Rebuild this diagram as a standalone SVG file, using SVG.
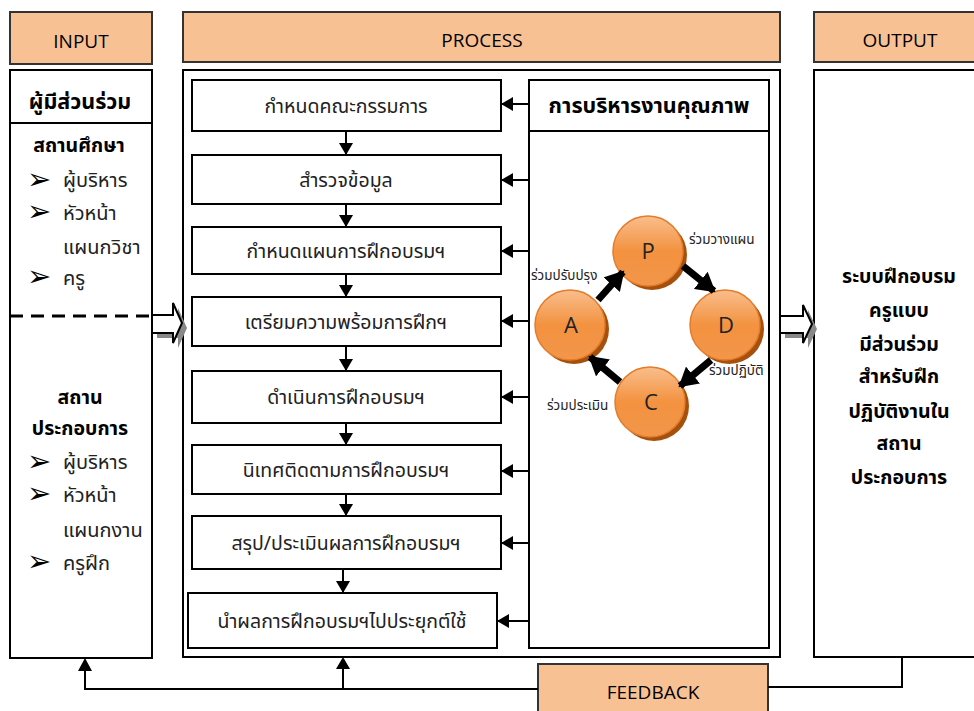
<svg xmlns="http://www.w3.org/2000/svg" width="974" height="711" viewBox="0 0 974 711">
<style>
.hdr{fill:#F8C194;stroke:#333;stroke-width:2}
.box{fill:#fff;stroke:#000;stroke-width:2}
.en{font-family:"Open Sans","Noto Sans","DejaVu Sans",sans-serif;font-size:19px;fill:#000;text-anchor:middle}
.th{font-family:"Noto Sans Thai","Noto Sans Thai UI","Leelawadee UI",Tahoma,"Noto Sans",sans-serif;fill:#222}
.pt{font-size:19.5px;text-anchor:middle}
.it{font-size:20px}
.b{font-weight:bold;fill:#000}
.sm{font-size:13.5px}
.bul{font-family:"DejaVu Sans",sans-serif;font-size:29px;fill:#000}
.ln{fill:none;stroke:#000;stroke-width:2}
.pdca{fill:none;stroke:#000;stroke-width:7}
.ltr{font-family:"Open Sans","Noto Sans",sans-serif;font-size:22px;fill:#222;text-anchor:middle}
</style>
<defs>
<marker id="ah" markerUnits="userSpaceOnUse" markerWidth="14" markerHeight="14" refX="12" refY="7" orient="auto">
<path d="M0,0 L12,7 L0,14 Z" fill="#000"/>
</marker>
<marker id="big" markerUnits="userSpaceOnUse" markerWidth="22" markerHeight="22" refX="17" refY="11" orient="auto">
<path d="M0,0 L19,11 L0,22 Z" fill="#000"/>
</marker>
<linearGradient id="og" x1="0" y1="0" x2="0" y2="1">
<stop offset="0" stop-color="#F9BE8C"/>
<stop offset="0.5" stop-color="#F39240"/>
<stop offset="1" stop-color="#F2964A"/>
</linearGradient>
</defs>

<g id="input-header"><rect class="hdr" x="10" y="12" width="142" height="52"/><text class="en" x="81" y="48">INPUT</text></g>
<g id="process-header"><rect class="hdr" x="183" y="12" width="597" height="50"/><text class="en" x="482" y="47">PROCESS</text></g>
<g id="output-header"><rect class="hdr" x="814" y="12" width="170" height="50"/><text class="en" x="900" y="47">OUTPUT</text></g>

<g id="input">
<rect class="box" x="10" y="70" width="142" height="588"/>
<line class="ln" x1="10" y1="123" x2="152" y2="123"/>
<text class="th b" x="80" y="109" font-size="21.5" text-anchor="middle">ผู้มีส่วนร่วม</text>
<text class="th b" x="79" y="152" font-size="19.5" text-anchor="middle">สถานศึกษา</text>
<text class="bul" x="27" y="189">➢</text><text class="th it" x="63" y="187">ผู้บริหาร</text>
<text class="bul" x="27" y="221">➢</text><text class="th it" x="63" y="220">หัวหน้า</text>
<text class="th it" x="63" y="254">แผนกวิชา</text>
<text class="bul" x="27" y="286">➢</text><text class="th it" x="63" y="285">ครู</text>
<line x1="10" y1="316" x2="152" y2="316" stroke="#000" stroke-width="3" stroke-dasharray="13,8"/>
<text class="th b" x="80" y="404" font-size="19.5" text-anchor="middle">สถาน</text>
<text class="th b" x="80" y="435" font-size="19.5" text-anchor="middle">ประกอบการ</text>
<text class="bul" x="27" y="471">➢</text><text class="th it" x="63" y="469">ผู้บริหาร</text>
<text class="bul" x="27" y="503">➢</text><text class="th it" x="63" y="502">หัวหน้า</text>
<text class="th it" x="63" y="537">แผนกงาน</text>
<text class="bul" x="27" y="571">➢</text><text class="th it" x="63" y="570">ครูฝึก</text>
</g>

<g id="process"><rect class="box" x="183" y="70" width="597" height="587"/></g>

<g id="step1"><rect class="box" x="192" y="80" width="309" height="51"/><text class="th pt" x="346" y="113">กำหนดคณะกรรมการ</text></g>
<g id="step2"><rect class="box" x="192" y="155" width="309" height="49"/><text class="th pt" x="346" y="187">สำรวจข้อมูล</text></g>
<g id="step3"><rect class="box" x="192" y="227" width="309" height="47"/><text class="th pt" x="346" y="258">กำหนดแผนการฝึกอบรมฯ</text></g>
<g id="step4"><rect class="box" x="192" y="297" width="309" height="49"/><text class="th pt" x="346" y="329">เตรียมความพร้อมการฝึกฯ</text></g>
<g id="step5"><rect class="box" x="192" y="371" width="309" height="52"/><text class="th pt" x="346" y="404">ดำเนินการฝึกอบรมฯ</text></g>
<g id="step6"><rect class="box" x="192" y="445" width="309" height="49"/><text class="th pt" x="346" y="477">นิเทศติดตามการฝึกอบรมฯ</text></g>
<g id="step7"><rect class="box" x="192" y="516" width="309" height="53"/><text class="th pt" x="346" y="550">สรุป/ประเมินผลการฝึกอบรมฯ</text></g>
<g id="step8"><rect class="box" x="188" y="593" width="309" height="55"/><text class="th pt" x="342" y="628">นำผลการฝึกอบรมฯไปประยุกต์ใช้</text></g>

<g id="quality">
<rect class="box" x="529" y="80" width="240" height="568"/>
<line class="ln" x1="529" y1="131" x2="769" y2="131"/>
<text class="th b" x="649" y="113" font-size="21.5" text-anchor="middle">การบริหารงานคุณภาพ</text>
</g>

<g id="node-P"><circle cx="652" cy="255" r="35" fill="#A5500C"/><circle cx="648" cy="251" r="35" fill="url(#og)" stroke="#E47C2A" stroke-width="1.5"/><text class="ltr" x="648" y="259">P</text></g>
<g id="node-D"><circle cx="729" cy="329" r="35" fill="#A5500C"/><circle cx="725" cy="325" r="35" fill="url(#og)" stroke="#E47C2A" stroke-width="1.5"/><text class="ltr" x="726" y="333">D</text></g>
<g id="node-A"><circle cx="574" cy="329" r="35" fill="#A5500C"/><circle cx="570" cy="325" r="35" fill="url(#og)" stroke="#E47C2A" stroke-width="1.5"/><text class="ltr" x="571" y="333">A</text></g>
<g id="node-C"><circle cx="654" cy="406" r="35" fill="#A5500C"/><circle cx="650" cy="402" r="35" fill="url(#og)" stroke="#E47C2A" stroke-width="1.5"/><text class="ltr" x="651" y="410">C</text></g>

<g id="pdca-labels">
<text class="th sm" x="689" y="244">ร่วมวางแผน</text>
<text class="th sm" x="531" y="280">ร่วมปรับปรุง</text>
<text class="th sm" x="709" y="375">ร่วมปฏิบัติ</text>
<text class="th sm" x="547" y="410">ร่วมประเมิน</text>
</g>

<g id="output">
<rect class="box" x="814" y="70" width="170" height="587"/>
<g class="th b" font-size="19.5" text-anchor="middle">
<text x="899" y="283">ระบบฝึกอบรม</text>
<text x="899" y="317">ครูแบบ</text>
<text x="899" y="351">มีส่วนร่วม</text>
<text x="899" y="383">สำหรับฝึก</text>
<text x="899" y="418">ปฏิบัติงานใน</text>
<text x="899" y="450">สถาน</text>
<text x="899" y="484">ประกอบการ</text>
</g>
</g>

<g id="feedback"><rect class="hdr" x="538" y="664" width="230" height="55"/><text class="en" x="653" y="699" font-size="18">FEEDBACK</text></g>

<g id="connectors">
<line class="ln" x1="346" y1="131" x2="346" y2="155" marker-end="url(#ah)"/>
<line class="ln" x1="346" y1="204" x2="346" y2="227" marker-end="url(#ah)"/>
<line class="ln" x1="346" y1="274" x2="346" y2="297" marker-end="url(#ah)"/>
<line class="ln" x1="346" y1="346" x2="346" y2="371" marker-end="url(#ah)"/>
<line class="ln" x1="346" y1="423" x2="346" y2="445" marker-end="url(#ah)"/>
<line class="ln" x1="346" y1="494" x2="346" y2="516" marker-end="url(#ah)"/>
<line class="ln" x1="343" y1="569" x2="343" y2="593" marker-end="url(#ah)"/>

<line class="ln" x1="529" y1="104" x2="501" y2="104" marker-end="url(#ah)"/>
<line class="ln" x1="529" y1="180" x2="501" y2="180" marker-end="url(#ah)"/>
<line class="ln" x1="529" y1="251" x2="501" y2="251" marker-end="url(#ah)"/>
<line class="ln" x1="529" y1="321" x2="501" y2="321" marker-end="url(#ah)"/>
<line class="ln" x1="529" y1="397" x2="501" y2="397" marker-end="url(#ah)"/>
<line class="ln" x1="529" y1="471" x2="501" y2="471" marker-end="url(#ah)"/>
<line class="ln" x1="529" y1="543" x2="501" y2="543" marker-end="url(#ah)"/>
<line class="ln" x1="529" y1="621" x2="497" y2="621" marker-end="url(#ah)"/>

<line class="pdca" x1="598" y1="300" x2="623" y2="272" marker-end="url(#big)"/>
<line class="pdca" x1="683" y1="266" x2="714" y2="291" marker-end="url(#big)"/>
<line class="pdca" x1="711" y1="360" x2="680" y2="386" marker-end="url(#big)"/>
<line class="pdca" x1="620" y1="382" x2="590" y2="357" marker-end="url(#big)"/>

<path d="M157,320 H178 V308 L187,328 L178,348 V338 H157 Z" fill="#888"/>
<path d="M152,315 H173 V303 L182,323 L173,343 V333 H152 Z" fill="#fff" stroke="#000" stroke-width="2"/>
<path d="M785,321 H808 V310 L817,329 L808,348 V338 H785 Z" fill="#888"/>
<path d="M780,316 H803 V305 L812,324 L803,343 V333 H780 Z" fill="#fff" stroke="#000" stroke-width="2"/>

<polyline class="ln" points="538,689 85,689 85,670"/>
<path d="M78,671 L85,658 L92,671 Z" fill="#000"/>
<line class="ln" x1="343" y1="689" x2="343" y2="668"/>
<path d="M336,669 L343,657 L350,669 Z" fill="#000"/>
<polyline class="ln" points="768,687 902,687 902,657"/>
</g>
</svg>
